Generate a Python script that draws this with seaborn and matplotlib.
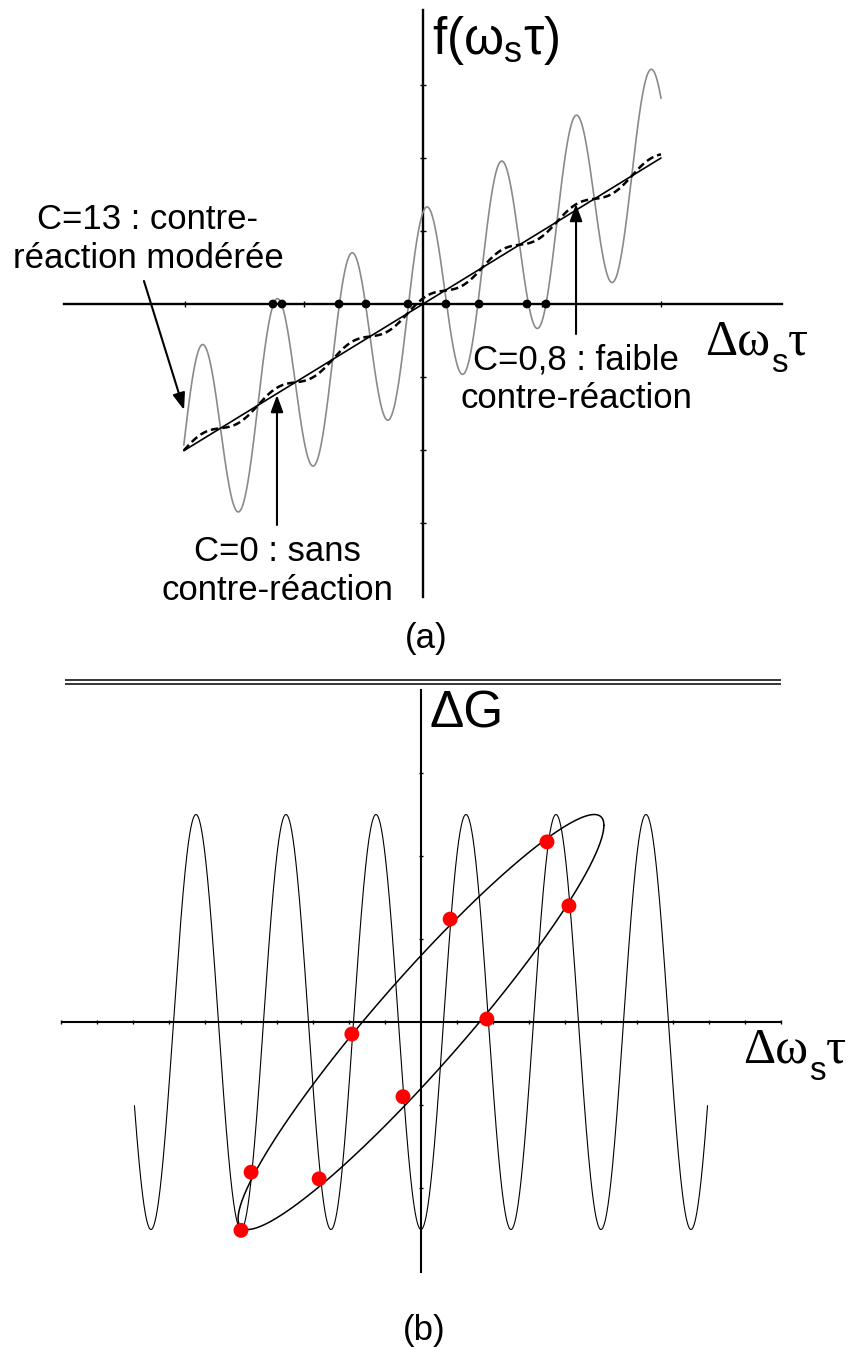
import numpy as np
import pandas as pd
import matplotlib
matplotlib.use("Agg")
import matplotlib.pyplot as plt
import seaborn as sns

# ---------------- panel (a) : f(ws tau) versus dws tau (tick units) ----------------
x_start_a = -2.01
x_end_a = 2.0
c_values = [0, 0.8, 13]          # no feedback, weak feedback, moderate feedback
ripple_k = 10.0                  # oscillation period ~0.63 tick
ripple_phase = 1.31
ripple_scale = 0.1               # ripple amplitude = C * ripple_scale
zero_dots_x = [-1.261, -1.185, -0.706, -0.479, -0.126, 0.193, 0.471, 0.874, 1.034]
ticks_a_x = [-2, -1, 1, 2]
ticks_a_y = [-3, -2, -1, 1, 2, 3]

# ---------------- panel (b) : delta G versus dws tau ----------------
x_start_b = -7.96
x_end_b = 7.96
gain_amp = 2.5
gain_period = 2.5
ellipse_a = 5.08
ellipse_b = 2.5
ellipse_phase = 0.326
red_x = [-5.0, -4.72, -2.83, -1.92, -0.50, 1.83, 0.81, 3.50, 4.11]
red_y = [-2.51, -1.81, -1.89, -0.145, -0.90, 0.036, 1.24, 2.17, 1.40]
ticks_b_x = [-10, -9, -8, -7, -6, -5, -4, -3, -2, -1, 1, 2, 3, 4, 5, 6, 7, 8, 9, 10]
ticks_b_y = [-2, -1, 1, 2, 3]

SANS = ["Liberation Sans", "DejaVu Sans"]
SERIF = ["Liberation Serif", "DejaVu Serif"]

sns.set_theme(style="white")
plt.rcParams["font.family"] = SANS
plt.rcParams["mathtext.fontset"] = "custom"
plt.rcParams["mathtext.sf"] = "Liberation Sans"

fig = plt.figure(figsize=(8.54, 13.54), dpi=100)
ax_a = fig.add_axes([0, 0.5, 1, 0.5])
ax_b = fig.add_axes([0, 0, 1, 0.5])


def setup_axes(ax, xlim, ylim, xb, yb, xt, yt, lw):
    ax.set_xlim(*xlim)
    ax.set_ylim(*ylim)
    ax.patch.set_alpha(0)
    for side in ["top", "right"]:
        ax.spines[side].set_visible(False)
    ax.spines["left"].set_position(("data", 0))
    ax.spines["bottom"].set_position(("data", 0))
    ax.spines["left"].set_bounds(*yb)
    ax.spines["bottom"].set_bounds(*xb)
    for side in ["left", "bottom"]:
        ax.spines[side].set_color("black")
        ax.spines[side].set_linewidth(lw)
        ax.spines[side].set_zorder(1)
    ax.set_xticks(xt)
    ax.set_yticks(yt)
    ax.tick_params(bottom=True, left=True, direction="inout", length=4, width=1.0,
                   colors="black", labelbottom=False, labelleft=False)
    ax.grid(False)


def freq_label(ax, x, y, size):
    # "Δω" serif, sans subscript "s", then serif "τ" on the same baseline
    t1 = ax.text(x, y, "Δω", family=SERIF, fontsize=size, ha="left", va="bottom",
                 color="black")
    t2 = ax.annotate("s", xy=(1, 0), xycoords=t1, xytext=(0.5, -4.5),
                     textcoords="offset points", family=SANS, fontsize=size * 0.66,
                     ha="left", va="baseline", color="black")
    ax.annotate("τ", xy=(1, 0), xycoords=(t2, t1), xytext=(0.5, 0),
                textcoords="offset points", family=SERIF, fontsize=size,
                ha="left", va="bottom", color="black")


# ---------------- panel (a) ----------------
setup_axes(ax_a, (-3.5546, 3.6218), (-5.1096, 4.1644), (-3.02, 3.02), (-4.02, 4.03),
           ticks_a_x, ticks_a_y, 1.7)

xa = np.linspace(x_start_a, x_end_a, 1500)
curves = pd.DataFrame({"x": xa})
for c in c_values:
    curves[f"C={c}"] = xa + c * ripple_scale * np.sin(ripple_k * xa + ripple_phase)

sns.lineplot(data=curves, x="x", y="C=13", ax=ax_a, color="#8a8a8a", lw=1.2,
             sort=False, estimator=None, zorder=2)
sns.lineplot(data=curves, x="x", y="C=0", ax=ax_a, color="black", lw=1.2,
             sort=False, estimator=None, zorder=3)
sns.lineplot(data=curves, x="x", y="C=0.8", ax=ax_a, color="black", lw=1.8,
             linestyle=(0, (3, 1.6)), sort=False, estimator=None, zorder=3)
sns.scatterplot(x=zero_dots_x, y=[0] * len(zero_dots_x), ax=ax_a, color="black",
                s=40, edgecolor="none", zorder=4)

arrow = dict(arrowstyle="-|>,head_length=0.6,head_width=0.22", mutation_scale=17,
             color="black", lw=1.5, shrinkA=0, shrinkB=0)
ax_a.annotate("", xy=(-2.008, -1.452), xytext=(-2.345, 0.315), arrowprops=arrow)
ax_a.annotate("", xy=(-1.227, -1.247), xytext=(-1.227, -3.027), arrowprops=arrow)
ax_a.annotate("", xy=(1.286, 1.370), xytext=(1.286, -0.411), arrowprops=arrow)

ax_a.text(-2.311, 0.89, "C=13 : contre-\nréaction modérée", ha="center", va="center",
          fontsize=25, color="black")
ax_a.text(-1.227, -3.658, "C=0 : sans\ncontre-réaction", ha="center", va="center",
          fontsize=25, color="black")
ax_a.text(1.286, -1.027, "C=0,8 : faible\ncontre-réaction", ha="center", va="center",
          fontsize=25, color="black")
ax_a.text(0.076, 3.616, r"$\mathsf{f(\omega_s\tau)}$", ha="left", va="center",
          fontsize=37, color="black")
freq_label(ax_a, 2.37, -0.842, 36)
ax_a.text(0.025, -4.589, "(a)", ha="center", va="center", fontsize=25, color="black")

# ---------------- panel (b) ----------------
setup_axes(ax_b, (-11.694, 12.028), (-4.0, 4.1566), (-9.97, 9.97), (-3.01, 4.0),
           ticks_b_x, ticks_b_y, 1.5)
ax_b.tick_params(length=3)

xb = np.linspace(x_start_b, x_end_b, 2000)
gain = pd.DataFrame({"x": xb, "dG": -gain_amp * np.cos(2 * np.pi * xb / gain_period)})
sns.lineplot(data=gain, x="x", y="dG", ax=ax_b, color="black", lw=0.8,
             sort=False, estimator=None, zorder=2)

t = np.linspace(0, 2 * np.pi, 600)
ellipse = pd.DataFrame({"x": ellipse_a * np.cos(t),
                        "y": ellipse_b * np.cos(t - ellipse_phase)})
sns.lineplot(data=ellipse, x="x", y="y", ax=ax_b, color="black", lw=1.1,
             sort=False, estimator=None, zorder=3)
sns.scatterplot(x=red_x, y=red_y, ax=ax_b, color="#ff0000", s=115, edgecolor="none",
                zorder=5)

ax_b.hlines([4.12, 4.072], -9.89, 10.0, color="black", lw=1.1)
ax_b.text(0.25, 3.71, "ΔG", ha="left", va="center", fontsize=37, color="black")
freq_label(ax_b, 8.94, -0.62, 36)
ax_b.text(0.083, -3.72, "(b)", ha="center", va="center", fontsize=25, color="black")

ax_a.set_xlabel("")
ax_a.set_ylabel("")
ax_b.set_xlabel("")
ax_b.set_ylabel("")

fig.savefig("out.png", dpi=100, facecolor="white")
